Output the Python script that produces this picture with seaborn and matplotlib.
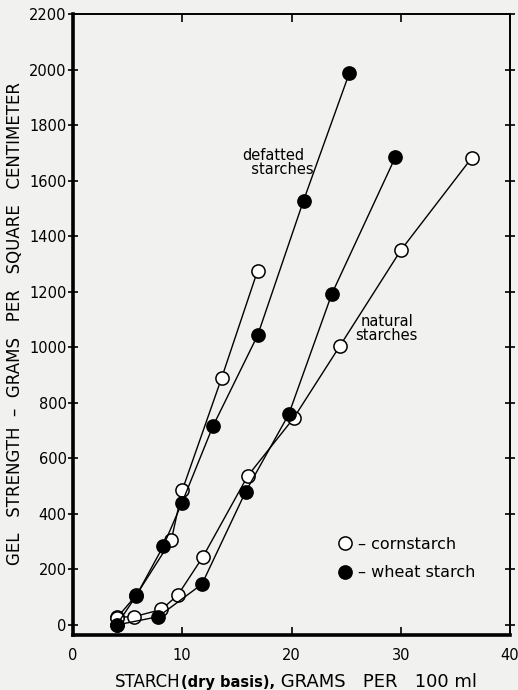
import matplotlib
matplotlib.use("Agg")
import matplotlib.pyplot as plt
from matplotlib.lines import Line2D
import seaborn as sns
import pandas as pd

# ---- data ----
defatted_corn_x = [4.0, 5.8, 9.0, 10.0, 13.6, 16.9]
defatted_corn_y = [25, 108, 306, 485, 889, 1276]
defatted_wheat_x = [4.0, 5.8, 8.25, 9.95, 12.8, 16.9, 21.1, 25.3]
defatted_wheat_y = [0, 106, 283, 438, 715, 1043, 1528, 1988]
natural_corn_x = [4.0, 5.6, 8.1, 9.6, 11.9, 16.0, 20.2, 24.4, 30.0, 36.5]
natural_corn_y = [28, 30, 56, 108, 246, 537, 745, 1003, 1349, 1682]
natural_wheat_x = [4.0, 7.8, 11.8, 15.8, 19.75, 23.7, 29.5]
natural_wheat_y = [0, 30, 147, 480, 759, 1193, 1684]

x_ticks = [0, 10, 20, 30, 40]
y_ticks = [0, 200, 400, 600, 800, 1000, 1200, 1400, 1600, 1800, 2000, 2200]
legend_labels = ["– cornstarch", "– wheat starch"]

sns.set_theme(style="white")
plt.rcParams["font.family"] = ["DejaVu Sans"]
plt.rcParams["text.color"] = "black"
plt.rcParams["axes.labelcolor"] = "black"
plt.rcParams["xtick.color"] = "black"
plt.rcParams["ytick.color"] = "black"
BG = "#f1f1ef"

fig = plt.figure(figsize=(5.18, 6.90), dpi=100, facecolor=BG)
ax = fig.add_axes([73/518, 1-635/690, (510-73)/518, (635-14)/690])
ax.set_facecolor(BG)

series = [
    (natural_corn_x, natural_corn_y, "white"),
    (natural_wheat_x, natural_wheat_y, "black"),
    (defatted_corn_x, defatted_corn_y, "white"),
    (defatted_wheat_x, defatted_wheat_y, "black"),
]
for xs, ys, fc in series:
    df = pd.DataFrame({"x": xs, "y": ys})
    sns.lineplot(data=df, x="x", y="y", ax=ax, sort=False, estimator=None,
                 color="black", linewidth=1.0, marker="o", markersize=9.5,
                 markerfacecolor=fc, markeredgecolor="black", markeredgewidth=1.1)

ax.set_xlim(0, 40)
ax.set_ylim(-36, 2200)
ax.set_xticks(x_ticks)
ax.set_yticks(y_ticks)
ax.set_xticklabels([str(v) for v in x_ticks], fontsize=10.5)
ax.set_yticklabels([str(v) for v in y_ticks], fontsize=10.5)
ax.set_xlabel("")
ax.set_ylabel("GEL   STRENGTH  –  GRAMS   PER   SQUARE   CENTIMETER", fontsize=12,
              color="black")
ax.yaxis.set_label_coords(-0.112, 0.502)

for side in ["left", "bottom"]:
    ax.spines[side].set_linewidth(2.6)
    ax.spines[side].set_color("black")
for side in ["top", "right"]:
    ax.spines[side].set_linewidth(1.4)
    ax.spines[side].set_color("black")
    ax.spines[side].set_visible(True)

ax.tick_params(axis="y", which="both", left=True, right=True, direction="inout",
               length=7, width=1.2, pad=1, colors="black")
ax.tick_params(axis="x", which="both", bottom=True, top=True, direction="in",
               length=6, width=1.2, pad=9, colors="black")

# annotations
ax.text(15.5, 1666, "defatted\n  starches", fontsize=10.5, ha="left", va="center",
        linespacing=0.95, color="black")
ax.text(28.7, 1067, "natural\nstarches", fontsize=10.5, ha="center", va="center",
        linespacing=0.95, color="black")

# legend
handles = [
    Line2D([], [], linestyle="none", marker="o", markersize=9.5,
           markerfacecolor="white", markeredgecolor="black", markeredgewidth=1.1),
    Line2D([], [], linestyle="none", marker="o", markersize=9.5,
           markerfacecolor="black", markeredgecolor="black", markeredgewidth=1.1),
]
leg = ax.legend(handles, legend_labels, loc="upper left", bbox_to_anchor=(0.605, 0.158),
                frameon=False, fontsize=11.5, handlelength=1.0, handletextpad=0.3,
                labelspacing=0.85, borderpad=0, borderaxespad=0)
for t in leg.get_texts():
    t.set_color("black")

# x axis label made of pieces
t1 = fig.text(115/518, 3/690, "STARCH", fontsize=12, ha="left", va="baseline",
              color="black")
t2 = ax.annotate("(dry basis),", xy=(1, 0), xycoords=t1, xytext=(0, 0.5),
                 textcoords="offset points", fontsize=10.5, fontweight="bold",
                 ha="left", va="bottom", annotation_clip=False, color="black")
ax.annotate(" GRAMS   PER   100 ml", xy=(1, 0), xycoords=t2, xytext=(0, -0.8),
            textcoords="offset points", fontsize=13, ha="left", va="bottom",
            annotation_clip=False, color="black")

fig.savefig("out.png", dpi=100, facecolor=BG)
